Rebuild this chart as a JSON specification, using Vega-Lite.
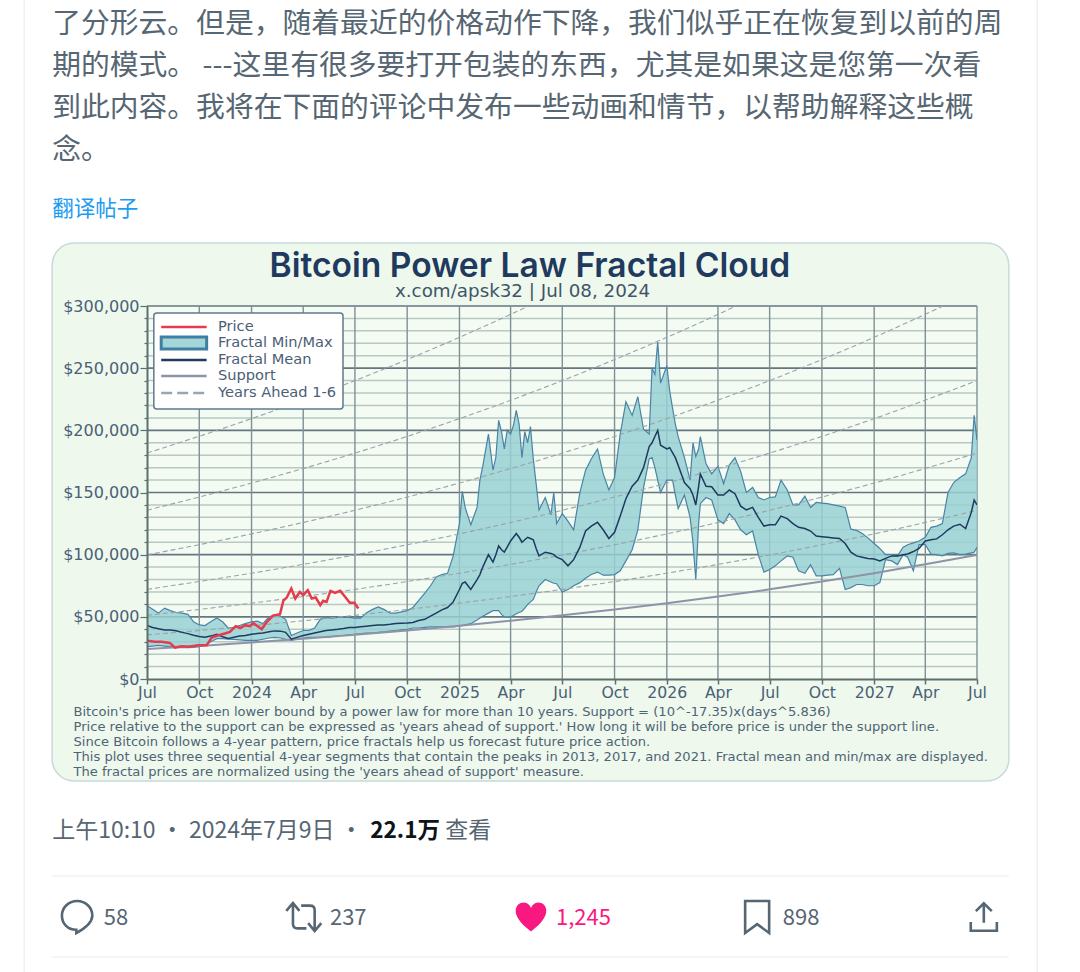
{"$schema":"https://vega.github.io/schema/vega-lite/v6.json","width":830,"height":373,"autosize":{"type":"none"},"padding":{"left":147,"top":306,"right":103,"bottom":293},"background":"#ffffff","config":{"view":{"stroke":null}},
"datasets":{
"band":[
{"d":"2023-07-01","lo":26000,"hi":59000,"mean":43000},{"d":"2023-07-11","lo":26500,"hi":56000,"mean":41500},{"d":"2023-07-21","lo":27000,"hi":53000,"mean":40500},{"d":"2023-08-01","lo":26500,"hi":57000,"mean":39500},{"d":"2023-08-11","lo":26000,"hi":55000,"mean":39500},{"d":"2023-08-21","lo":25500,"hi":53500,"mean":38800},{"d":"2023-09-01","lo":25300,"hi":53000,"mean":37500},{"d":"2023-09-11","lo":25300,"hi":52000,"mean":36500},{"d":"2023-09-21","lo":25500,"hi":46000,"mean":35200},{"d":"2023-10-01","lo":26000,"hi":43500,"mean":34200},{"d":"2023-10-11","lo":27000,"hi":43000,"mean":33500},{"d":"2023-10-21","lo":30000,"hi":46000,"mean":34500},{"d":"2023-11-01","lo":32500,"hi":49000,"mean":36000},{"d":"2023-11-11","lo":32500,"hi":46000,"mean":34000},{"d":"2023-11-21","lo":32000,"hi":41000,"mean":32600},{"d":"2023-12-01","lo":31800,"hi":41500,"mean":33500},{"d":"2023-12-11","lo":31500,"hi":43000,"mean":34500},{"d":"2023-12-21","lo":31000,"hi":44500,"mean":35000},
{"d":"2024-01-01","lo":31000,"hi":46000,"mean":36000},{"d":"2024-01-11","lo":31000,"hi":46500,"mean":36500},{"d":"2024-01-21","lo":32000,"hi":44600,"mean":37000},{"d":"2024-02-01","lo":33000,"hi":50000,"mean":38000},{"d":"2024-02-11","lo":33400,"hi":51500,"mean":38700},{"d":"2024-02-21","lo":33000,"hi":50500,"mean":38500},{"d":"2024-03-01","lo":32000,"hi":48000,"mean":37500},{"d":"2024-03-11","lo":31000,"hi":35000,"mean":32000},{"d":"2024-03-21","lo":32000,"hi":37000,"mean":33500},{"d":"2024-04-01","lo":33000,"hi":39000,"mean":35000},{"d":"2024-04-11","lo":33400,"hi":39000,"mean":36000},{"d":"2024-04-21","lo":33400,"hi":41000,"mean":37000},{"d":"2024-05-01","lo":33400,"hi":48000,"mean":38000},{"d":"2024-05-11","lo":33400,"hi":49500,"mean":39000},{"d":"2024-05-21","lo":34000,"hi":49000,"mean":39500},{"d":"2024-06-01","lo":35000,"hi":49500,"mean":40000},{"d":"2024-06-11","lo":35000,"hi":49500,"mean":40600},{"d":"2024-06-21","lo":35500,"hi":49500,"mean":41500},
{"d":"2024-07-01","lo":36000,"hi":49000,"mean":41500},{"d":"2024-07-11","lo":36500,"hi":49000,"mean":42000},{"d":"2024-07-21","lo":37000,"hi":53000,"mean":42500},{"d":"2024-08-01","lo":37000,"hi":56000,"mean":43000},{"d":"2024-08-11","lo":37500,"hi":58000,"mean":43500},{"d":"2024-08-21","lo":38000,"hi":56000,"mean":43500},{"d":"2024-09-01","lo":38500,"hi":53000,"mean":44000},{"d":"2024-09-11","lo":39000,"hi":53000,"mean":44600},{"d":"2024-09-21","lo":39500,"hi":54000,"mean":44800},{"d":"2024-10-01","lo":40000,"hi":55000,"mean":45000},{"d":"2024-10-11","lo":41000,"hi":57500,"mean":45500},{"d":"2024-10-21","lo":41000,"hi":63000,"mean":47000},{"d":"2024-11-01","lo":41500,"hi":69000,"mean":48000},{"d":"2024-11-11","lo":42000,"hi":75000,"mean":50500},{"d":"2024-11-21","lo":42000,"hi":82000,"mean":53000},{"d":"2024-12-01","lo":42000,"hi":84000,"mean":55600},{"d":"2024-12-11","lo":42000,"hi":85000,"mean":57500},{"d":"2024-12-21","lo":42000,"hi":99000,"mean":62000},
{"d":"2025-01-01","lo":42500,"hi":125000,"mean":72000},{"d":"2025-01-06","lo":43000,"hi":151000,"mean":77000},{"d":"2025-01-11","lo":43500,"hi":138000,"mean":78000},{"d":"2025-01-21","lo":44500,"hi":124000,"mean":72000},{"d":"2025-02-01","lo":47500,"hi":138000,"mean":80000},{"d":"2025-02-06","lo":49000,"hi":160000,"mean":84000},{"d":"2025-02-11","lo":50500,"hi":171000,"mean":90000},{"d":"2025-02-21","lo":53000,"hi":197000,"mean":100000},{"d":"2025-03-01","lo":55000,"hi":168000,"mean":94000},{"d":"2025-03-06","lo":55000,"hi":178000,"mean":100000},{"d":"2025-03-11","lo":55000,"hi":208000,"mean":107000},{"d":"2025-03-16","lo":52000,"hi":199000,"mean":104000},{"d":"2025-03-21","lo":50000,"hi":185000,"mean":102000},{"d":"2025-03-26","lo":50000,"hi":200000,"mean":106000},{"d":"2025-04-01","lo":50000,"hi":197000,"mean":111000},{"d":"2025-04-06","lo":51000,"hi":204000,"mean":114000},{"d":"2025-04-11","lo":52500,"hi":216000,"mean":117000},{"d":"2025-04-16","lo":53500,"hi":205000,"mean":114000},{"d":"2025-04-21","lo":54500,"hi":178000,"mean":110000},{"d":"2025-04-26","lo":57000,"hi":199000,"mean":112000},{"d":"2025-05-01","lo":60000,"hi":190000,"mean":114000},{"d":"2025-05-06","lo":62000,"hi":203000,"mean":113000},{"d":"2025-05-11","lo":64000,"hi":177000,"mean":112000},{"d":"2025-05-16","lo":70000,"hi":157000,"mean":105000},{"d":"2025-05-21","lo":75000,"hi":136000,"mean":99000},{"d":"2025-06-01","lo":80000,"hi":146000,"mean":102000},{"d":"2025-06-11","lo":78000,"hi":132000,"mean":101000},{"d":"2025-06-16","lo":77000,"hi":150000,"mean":100000},{"d":"2025-06-21","lo":76600,"hi":125000,"mean":98000},
{"d":"2025-07-01","lo":70000,"hi":133000,"mean":96000},{"d":"2025-07-11","lo":72000,"hi":127000,"mean":91000},{"d":"2025-07-21","lo":75000,"hi":120000,"mean":96000},{"d":"2025-08-01","lo":77500,"hi":150000,"mean":106000},{"d":"2025-08-11","lo":81000,"hi":168000,"mean":119000},{"d":"2025-08-21","lo":84000,"hi":177000,"mean":123000},{"d":"2025-09-01","lo":86000,"hi":185000,"mean":126000},{"d":"2025-09-11","lo":83500,"hi":165000,"mean":120000},{"d":"2025-09-21","lo":83500,"hi":152000,"mean":113000},{"d":"2025-10-01","lo":84000,"hi":162000,"mean":118000},{"d":"2025-10-11","lo":87000,"hi":197000,"mean":131000},{"d":"2025-10-21","lo":95000,"hi":223000,"mean":145000},{"d":"2025-11-01","lo":104000,"hi":212000,"mean":155000},{"d":"2025-11-11","lo":120000,"hi":227000,"mean":160000},{"d":"2025-11-21","lo":154000,"hi":201000,"mean":170000},{"d":"2025-12-01","lo":177000,"hi":197000,"mean":187000},{"d":"2025-12-06","lo":178000,"hi":250000,"mean":190000},{"d":"2025-12-11","lo":170000,"hi":245000,"mean":195000},{"d":"2025-12-16","lo":160000,"hi":271000,"mean":200000},{"d":"2025-12-21","lo":150000,"hi":238000,"mean":188000},
{"d":"2026-01-01","lo":160000,"hi":252000,"mean":185000},{"d":"2026-01-06","lo":160000,"hi":232000,"mean":186000},{"d":"2026-01-11","lo":160000,"hi":218000,"mean":182000},{"d":"2026-01-16","lo":148000,"hi":205000,"mean":178000},{"d":"2026-01-21","lo":137000,"hi":195000,"mean":172000},{"d":"2026-02-01","lo":148000,"hi":178000,"mean":158000},{"d":"2026-02-11","lo":130000,"hi":160000,"mean":153000},{"d":"2026-02-16","lo":110000,"hi":190000,"mean":148000},{"d":"2026-02-21","lo":80000,"hi":179000,"mean":140000},{"d":"2026-02-26","lo":125000,"hi":185000,"mean":155000},{"d":"2026-03-01","lo":141000,"hi":195000,"mean":165000},{"d":"2026-03-11","lo":146000,"hi":173000,"mean":155000},{"d":"2026-03-21","lo":144000,"hi":165000,"mean":154600},{"d":"2026-04-01","lo":128000,"hi":171000,"mean":148000},{"d":"2026-04-11","lo":125000,"hi":157000,"mean":148000},{"d":"2026-04-21","lo":133000,"hi":172000,"mean":152000},{"d":"2026-05-01","lo":128000,"hi":178000,"mean":149000},{"d":"2026-05-11","lo":120000,"hi":167000,"mean":139000},{"d":"2026-05-21","lo":116000,"hi":150000,"mean":136000},{"d":"2026-06-01","lo":119000,"hi":154000,"mean":138000},{"d":"2026-06-11","lo":100000,"hi":146000,"mean":130000},{"d":"2026-06-21","lo":86000,"hi":144000,"mean":123000},
{"d":"2026-07-01","lo":88000,"hi":146000,"mean":124000},{"d":"2026-07-11","lo":91000,"hi":146500,"mean":124000},{"d":"2026-07-21","lo":95000,"hi":160000,"mean":131000},{"d":"2026-08-01","lo":99000,"hi":152000,"mean":129000},{"d":"2026-08-11","lo":98000,"hi":140000,"mean":125000},{"d":"2026-08-21","lo":87000,"hi":140000,"mean":122000},{"d":"2026-09-01","lo":85000,"hi":147000,"mean":121000},{"d":"2026-09-11","lo":92000,"hi":138000,"mean":119000},{"d":"2026-09-21","lo":83000,"hi":142000,"mean":115000},{"d":"2026-10-01","lo":83000,"hi":141500,"mean":114500},{"d":"2026-10-11","lo":83500,"hi":141000,"mean":114000},{"d":"2026-10-21","lo":84000,"hi":140000,"mean":113500},{"d":"2026-11-01","lo":89000,"hi":139000,"mean":113000},{"d":"2026-11-11","lo":72000,"hi":138000,"mean":109000},{"d":"2026-11-21","lo":73500,"hi":120500,"mean":102000},{"d":"2026-12-01","lo":76000,"hi":119500,"mean":99000},{"d":"2026-12-11","lo":76000,"hi":117000,"mean":98000},{"d":"2026-12-21","lo":75000,"hi":113500,"mean":97000},
{"d":"2027-01-01","lo":75000,"hi":109000,"mean":96500},{"d":"2027-01-11","lo":77500,"hi":105000,"mean":95000},{"d":"2027-01-21","lo":96000,"hi":100000,"mean":97000},{"d":"2027-02-01","lo":95000,"hi":100000,"mean":99000},{"d":"2027-02-11","lo":92000,"hi":99000,"mean":99000},{"d":"2027-02-21","lo":100000,"hi":106000,"mean":100000},{"d":"2027-03-01","lo":98000,"hi":108000,"mean":100500},{"d":"2027-03-11","lo":87000,"hi":109500,"mean":102500},{"d":"2027-03-21","lo":108000,"hi":111000,"mean":105000},{"d":"2027-04-01","lo":108000,"hi":114000,"mean":111000},{"d":"2027-04-11","lo":100500,"hi":122000,"mean":112000},{"d":"2027-04-21","lo":100000,"hi":123000,"mean":112700},{"d":"2027-05-01","lo":99000,"hi":125000,"mean":116000},{"d":"2027-05-11","lo":101000,"hi":150000,"mean":120000},{"d":"2027-05-21","lo":101500,"hi":158000,"mean":123000},{"d":"2027-06-01","lo":100000,"hi":162000,"mean":124500},{"d":"2027-06-11","lo":100500,"hi":165000,"mean":121000},{"d":"2027-06-21","lo":101500,"hi":178000,"mean":134000},{"d":"2027-06-26","lo":102000,"hi":212000,"mean":144000},{"d":"2027-07-01","lo":106000,"hi":192000,"mean":140000}
],
"price":[{"d":"2023-07-01","v":30700},{"d":"2023-07-15","v":29900},{"d":"2023-07-27","v":29900},{"d":"2023-08-10","v":29000},{"d":"2023-08-19","v":25300},{"d":"2023-08-31","v":26400},{"d":"2023-09-12","v":25900},{"d":"2023-09-29","v":27200},{"d":"2023-10-14","v":27200},{"d":"2023-10-23","v":33400},{"d":"2023-11-04","v":35200},{"d":"2023-11-15","v":36600},{"d":"2023-11-24","v":37900},{"d":"2023-12-04","v":42500},{"d":"2023-12-12","v":41000},{"d":"2023-12-21","v":43300},{"d":"2023-12-29","v":42500},{"d":"2024-01-04","v":45000},{"d":"2024-01-10","v":43000},{"d":"2024-01-19","v":40000},{"d":"2024-01-28","v":46000},{"d":"2024-02-08","v":51000},{"d":"2024-02-20","v":52000},{"d":"2024-02-26","v":63000},{"d":"2024-03-03","v":65500},{"d":"2024-03-11","v":72800},{"d":"2024-03-18","v":64700},{"d":"2024-03-26","v":70000},{"d":"2024-04-01","v":67400},{"d":"2024-04-09","v":71400},{"d":"2024-04-16","v":64700},{"d":"2024-04-23","v":65500},{"d":"2024-05-01","v":59400},{"d":"2024-05-06","v":62900},{"d":"2024-05-12","v":62000},{"d":"2024-05-19","v":70900},{"d":"2024-05-27","v":69300},{"d":"2024-06-05","v":70900},{"d":"2024-06-14","v":66000},{"d":"2024-06-22","v":61300},{"d":"2024-06-30","v":61300},{"d":"2024-07-07","v":56700}],
"curves":[
{"d":"2023-07-01","n":"s","v":24050},{"d":"2023-10-01","n":"s","v":26500},{"d":"2024-01-01","n":"s","v":29350},{"d":"2024-04-01","n":"s","v":32300},{"d":"2024-07-01","n":"s","v":35500},{"d":"2024-10-01","n":"s","v":39000},{"d":"2025-01-01","n":"s","v":42800},{"d":"2025-04-01","n":"s","v":46800},{"d":"2025-07-01","n":"s","v":51200},{"d":"2025-10-01","n":"s","v":55900},{"d":"2026-01-01","n":"s","v":61000},{"d":"2026-04-01","n":"s","v":66300},{"d":"2026-07-01","n":"s","v":72100},{"d":"2026-10-01","n":"s","v":78400},{"d":"2027-01-01","n":"s","v":85100},{"d":"2027-04-01","n":"s","v":92300},{"d":"2027-07-01","n":"s","v":99800}],
"ahead":[
{"d":"2023-07-01","n":1,"v":35500},{"d":"2024-01-01","n":1,"v":42800},{"d":"2024-07-01","n":1,"v":51200},{"d":"2025-01-01","n":1,"v":61000},{"d":"2025-07-01","n":1,"v":72100},{"d":"2026-01-01","n":1,"v":85100},{"d":"2026-07-01","n":1,"v":99800},{"d":"2027-01-01","n":1,"v":116700},{"d":"2027-07-01","n":1,"v":135700},
{"d":"2023-07-01","n":2,"v":51200},{"d":"2024-01-01","n":2,"v":61000},{"d":"2024-07-01","n":2,"v":72100},{"d":"2025-01-01","n":2,"v":85100},{"d":"2025-07-01","n":2,"v":99800},{"d":"2026-01-01","n":2,"v":116700},{"d":"2026-07-01","n":2,"v":135700},{"d":"2027-01-01","n":2,"v":157600},{"d":"2027-07-01","n":2,"v":181700},
{"d":"2023-07-01","n":3,"v":72100},{"d":"2024-01-01","n":3,"v":85100},{"d":"2024-07-01","n":3,"v":99800},{"d":"2025-01-01","n":3,"v":116700},{"d":"2025-07-01","n":3,"v":135700},{"d":"2026-01-01","n":3,"v":157600},{"d":"2026-07-01","n":3,"v":181700},{"d":"2027-01-01","n":3,"v":209400},{"d":"2027-07-01","n":3,"v":240000},
{"d":"2023-07-01","n":4,"v":99800},{"d":"2024-01-01","n":4,"v":116700},{"d":"2024-07-01","n":4,"v":135700},{"d":"2025-01-01","n":4,"v":157600},{"d":"2025-07-01","n":4,"v":181700},{"d":"2026-01-01","n":4,"v":209400},{"d":"2026-07-01","n":4,"v":240000},{"d":"2027-01-01","n":4,"v":274800},{"d":"2027-07-01","n":4,"v":312900},
{"d":"2023-07-01","n":5,"v":135700},{"d":"2024-01-01","n":5,"v":157600},{"d":"2024-07-01","n":5,"v":181700},{"d":"2025-01-01","n":5,"v":209400},{"d":"2025-07-01","n":5,"v":240000},{"d":"2026-01-01","n":5,"v":274800},{"d":"2026-07-01","n":5,"v":312900},{"d":"2027-01-01","n":5,"v":356000},{"d":"2027-07-01","n":5,"v":403500},
{"d":"2023-07-01","n":6,"v":181700},{"d":"2024-01-01","n":6,"v":209400},{"d":"2024-07-01","n":6,"v":240000},{"d":"2025-01-01","n":6,"v":274800},{"d":"2025-07-01","n":6,"v":312900},{"d":"2026-01-01","n":6,"v":356000},{"d":"2026-07-01","n":6,"v":403500},{"d":"2027-01-01","n":6,"v":457000},{"d":"2027-07-01","n":6,"v":514600}],
"tweet":[{"d":"2023-01-15","v":526820,"t":"了分形云。但是，随着最近的价格动作下降，我们似乎正在恢复到以前的周"},{"d":"2023-01-15","v":493040,"t":"期的模式。 ---这里有很多要打开包装的东西，尤其是如果这是您第一次看"},{"d":"2023-01-15","v":459260,"t":"到此内容。我将在下面的评论中发布一些动画和情节，以帮助解释这些概"},{"d":"2023-01-15","v":425480,"t":"念。"}]
},
"encoding":{
"x":{"field":"d","type":"temporal","scale":{"type":"utc","domain":[{"year":2023,"month":7,"date":1,"utc":true},{"year":2027,"month":7,"date":1,"utc":true}],"nice":false},
"axis":{"zindex":1,"title":["Bitcoin's price has been lower bound by a power law for more than 10 years. Support = (10^-17.35)x(days^5.836)","Price relative to the support can be expressed as 'years ahead of support.' How long it will be before price is under the support line.","Since Bitcoin follows a 4-year pattern, price fractals help us forecast future price action.","This plot uses three sequential 4-year segments that contain the peaks in 2013, 2017, and 2021. Fractal mean and min/max are displayed.","The fractal prices are normalized using the 'years ahead of support' measure."],
"titleFont":"DejaVu Sans","titleFontSize":13.1,"titleFontWeight":400,"titleColor":"#4f6475","titleAnchor":"start","titleAlign":"left","titleBaseline":"top","titleX":-74,"titleY":26.5,"titleLineHeight":15,
"values":[{"year":2023,"month":7,"date":1,"utc":true},{"year":2023,"month":10,"date":1,"utc":true},{"year":2024,"month":1,"date":1,"utc":true},{"year":2024,"month":4,"date":1,"utc":true},{"year":2024,"month":7,"date":1,"utc":true},{"year":2024,"month":10,"date":1,"utc":true},{"year":2025,"month":1,"date":1,"utc":true},{"year":2025,"month":4,"date":1,"utc":true},{"year":2025,"month":7,"date":1,"utc":true},{"year":2025,"month":10,"date":1,"utc":true},{"year":2026,"month":1,"date":1,"utc":true},{"year":2026,"month":4,"date":1,"utc":true},{"year":2026,"month":7,"date":1,"utc":true},{"year":2026,"month":10,"date":1,"utc":true},{"year":2027,"month":1,"date":1,"utc":true},{"year":2027,"month":4,"date":1,"utc":true},{"year":2027,"month":7,"date":1,"utc":true}],
"labelExpr":"utcmonth(datum.value)==0 ? utcFormat(datum.value,'%Y') : utcFormat(datum.value,'%b')","labelFont":"DejaVu Sans","labelFontSize":15.7,"labelColor":"#4a6076","labelOverlap":false,"labelFlush":false,"labelBound":false,"labelPadding":1.5,
"grid":false,"tickColor":"#5f6f6f","tickSize":5,"tickWidth":1.5,"domainColor":"#5f6f6f","domainWidth":2}},
"y":{"field":"v","type":"quantitative","scale":{"domain":[0,300000],"nice":false,"zero":false},
"axis":{"zindex":1,"title":null,"values":[0,10000,20000,30000,40000,50000,60000,70000,80000,90000,100000,110000,120000,130000,140000,150000,160000,170000,180000,190000,200000,210000,220000,230000,240000,250000,260000,270000,280000,290000,300000],
"labelExpr":"datum.value % 50000 == 0 ? format(datum.value,'$,.0f') : ''","labelFont":"DejaVu Sans","labelFontSize":16,"labelColor":"#4a6076","labelOverlap":false,"labelFlush":false,"labelBound":false,"labelPadding":1,
"grid":false,"tickColor":"#5f6f6f","tickSize":{"condition":{"test":"datum.value % 50000 == 0","value":7},"value":3},"tickWidth":1.2,"domainColor":"#5f6f6f","domainWidth":2}}
},
"layer":[
{"data":{"values":[{"d":"2023-01-15","d2":"2027-08-26","v":350670,"v2":-82040}]},"mark":{"type":"rect","fill":"#eef8ed","stroke":"#c8d9da","strokeWidth":1.5,"cornerRadius":22,"clip":false},"encoding":{"x2":{"field":"d2"},"y2":{"field":"v2"}}},
{"data":{"values":[{"d":"2023-07-01","d2":"2027-07-01","v":300000,"v2":0}]},"mark":{"type":"rect","fill":"#f3fbf2"},"encoding":{"x2":{"field":"d2"},"y2":{"field":"v2"}}},
{"data":{"values":[{"d":"2023-07-01","d2":"2027-07-01","v":10000},{"d":"2023-07-01","d2":"2027-07-01","v":20000},{"d":"2023-07-01","d2":"2027-07-01","v":30000},{"d":"2023-07-01","d2":"2027-07-01","v":40000},{"d":"2023-07-01","d2":"2027-07-01","v":60000},{"d":"2023-07-01","d2":"2027-07-01","v":70000},{"d":"2023-07-01","d2":"2027-07-01","v":80000},{"d":"2023-07-01","d2":"2027-07-01","v":90000},{"d":"2023-07-01","d2":"2027-07-01","v":110000},{"d":"2023-07-01","d2":"2027-07-01","v":120000},{"d":"2023-07-01","d2":"2027-07-01","v":130000},{"d":"2023-07-01","d2":"2027-07-01","v":140000},{"d":"2023-07-01","d2":"2027-07-01","v":160000},{"d":"2023-07-01","d2":"2027-07-01","v":170000},{"d":"2023-07-01","d2":"2027-07-01","v":180000},{"d":"2023-07-01","d2":"2027-07-01","v":190000},{"d":"2023-07-01","d2":"2027-07-01","v":210000},{"d":"2023-07-01","d2":"2027-07-01","v":220000},{"d":"2023-07-01","d2":"2027-07-01","v":230000},{"d":"2023-07-01","d2":"2027-07-01","v":240000},{"d":"2023-07-01","d2":"2027-07-01","v":260000},{"d":"2023-07-01","d2":"2027-07-01","v":270000},{"d":"2023-07-01","d2":"2027-07-01","v":280000},{"d":"2023-07-01","d2":"2027-07-01","v":290000}]},"mark":{"type":"rule","stroke":"#b9c8c3","strokeWidth":1.5},"encoding":{"x2":{"field":"d2"}}},
{"data":{"values":[{"d":"2023-07-01","d2":"2027-07-01","v":50000},{"d":"2023-07-01","d2":"2027-07-01","v":100000},{"d":"2023-07-01","d2":"2027-07-01","v":150000},{"d":"2023-07-01","d2":"2027-07-01","v":200000},{"d":"2023-07-01","d2":"2027-07-01","v":250000},{"d":"2023-07-01","d2":"2027-07-01","v":300000}]},"mark":{"type":"rule","stroke":"#64767f","strokeWidth":1.6},"encoding":{"x2":{"field":"d2"}}},
{"data":{"values":[{"d":"2023-10-01","v":0,"v2":300000},{"d":"2024-01-01","v":0,"v2":300000},{"d":"2024-04-01","v":0,"v2":300000},{"d":"2024-07-01","v":0,"v2":300000},{"d":"2024-10-01","v":0,"v2":300000},{"d":"2025-01-01","v":0,"v2":300000},{"d":"2025-04-01","v":0,"v2":300000},{"d":"2025-07-01","v":0,"v2":300000},{"d":"2025-10-01","v":0,"v2":300000},{"d":"2026-01-01","v":0,"v2":300000},{"d":"2026-04-01","v":0,"v2":300000},{"d":"2026-07-01","v":0,"v2":300000},{"d":"2026-10-01","v":0,"v2":300000},{"d":"2027-01-01","v":0,"v2":300000},{"d":"2027-04-01","v":0,"v2":300000},{"d":"2027-07-01","v":0,"v2":300000}]},"mark":{"type":"rule","stroke":"#7f9095","strokeWidth":1.4},"encoding":{"y2":{"field":"v2"}}},
{"data":{"values":[{"d":"2022-11-27","v":546120,"v2":-235660},{"d":"2027-10-15","v":546120,"v2":-235660}]},"mark":{"type":"rule","stroke":"#eff1f2","strokeWidth":1.5},"encoding":{"y2":{"field":"v2"}}},
{"data":{"values":[{"d":"2023-01-15","d2":"2027-08-26","v":-158450},{"d":"2023-01-15","d2":"2027-08-26","v":-223600}]},"mark":{"type":"rule","stroke":"#eff3f4","strokeWidth":1.5},"encoding":{"x2":{"field":"d2"}}},
{"data":{"name":"band"},"mark":{"type":"area","clip":true,"opacity":0.84,"fill":"#97d1d4"},"encoding":{"y":{"field":"hi","type":"quantitative"},"y2":{"field":"lo"}}},
{"data":{"name":"band"},"mark":{"type":"line","stroke":"#4a83a5","strokeWidth":1.2,"clip":true},"encoding":{"y":{"field":"hi","type":"quantitative"}}},
{"data":{"name":"band"},"mark":{"type":"line","stroke":"#4a83a5","strokeWidth":1.2,"clip":true},"encoding":{"y":{"field":"lo","type":"quantitative"}}},
{"data":{"name":"ahead"},"mark":{"type":"line","stroke":"#9aa3a8","strokeWidth":1.1,"strokeDash":[5,3],"interpolate":"monotone","clip":true},"encoding":{"detail":{"field":"n"}}},
{"data":{"name":"curves"},"mark":{"type":"line","stroke":"#8e93a8","strokeWidth":2,"interpolate":"monotone","clip":true}},
{"data":{"name":"band"},"mark":{"type":"line","stroke":"#1f3a5f","strokeWidth":1.5,"clip":true},"encoding":{"y":{"field":"mean","type":"quantitative"}}},
{"data":{"name":"price"},"mark":{"type":"line","stroke":"#e63b4d","strokeWidth":2.5,"clip":true}},
{"data":{"values":[{"d":"2023-07-13","d2":"2024-06-10","v":294370,"v2":217160}]},"mark":{"type":"rect","fill":"#ffffff","stroke":"#5d7a90","strokeWidth":1.5,"cornerRadius":3},"encoding":{"x2":{"field":"d2"},"y2":{"field":"v2"}}},
{"data":{"values":[{"d":"2023-07-26","d2":"2023-10-14","v":283110}]},"mark":{"type":"rule","stroke":"#e63b4d","strokeWidth":2.5},"encoding":{"x2":{"field":"d2"}}},
{"data":{"values":[{"d":"2023-07-26","d2":"2023-10-14","v":275070,"v2":265420}]},"mark":{"type":"rect","fill":"#a4d6d8","stroke":"#3f7fa3","strokeWidth":3},"encoding":{"x2":{"field":"d2"},"y2":{"field":"v2"}}},
{"data":{"values":[{"d":"2023-07-26","d2":"2023-10-14","v":256570}]},"mark":{"type":"rule","stroke":"#1f3a5f","strokeWidth":2.5},"encoding":{"x2":{"field":"d2"}}},
{"data":{"values":[{"d":"2023-07-26","d2":"2023-10-14","v":243700}]},"mark":{"type":"rule","stroke":"#8e93a8","strokeWidth":2.5},"encoding":{"x2":{"field":"d2"}}},
{"data":{"values":[{"d":"2023-07-26","d2":"2023-10-14","v":230030}]},"mark":{"type":"rule","stroke":"#9aa3b5","strokeWidth":2.5,"strokeDash":[11,5]},"encoding":{"x2":{"field":"d2"}}},
{"data":{"values":[{"d":"2023-11-03","v":283110,"t":"Price"},{"d":"2023-11-03","v":270240,"t":"Fractal Min/Max"},{"d":"2023-11-03","v":256570,"t":"Fractal Mean"},{"d":"2023-11-03","v":243700,"t":"Support"},{"d":"2023-11-03","v":230030,"t":"Years Ahead 1-6"}]},"mark":{"type":"text","font":"DejaVu Sans","fontSize":14.6,"align":"left","baseline":"middle","fill":"#4a6076"},"encoding":{"text":{"field":"t"}}},
{"data":{"values":[{"d":"2025-05-05","v":331400,"t":"Bitcoin Power Law Fractal Cloud"}]},"mark":{"type":"text","font":"Inter","fontSize":33.6,"fontWeight":600,"align":"center","baseline":"middle","fill":"#1f3a5f"},"encoding":{"text":{"field":"t"}}},
{"data":{"values":[{"d":"2025-04-22","v":311300,"t":"x.com/apsk32 | Jul 08, 2024"}]},"mark":{"type":"text","font":"DejaVu Sans","fontSize":18.3,"align":"center","baseline":"middle","fill":"#3f5568"},"encoding":{"text":{"field":"t"}}},
{"data":{"name":"tweet"},"mark":{"type":"text","font":"Noto Sans CJK SC","fontSize":28.8,"align":"left","baseline":"middle","fill":"#566672"},"encoding":{"text":{"field":"t"}}},
{"data":{"values":[{"d":"2023-01-15","v":377225,"t":"翻译帖子"}]},"mark":{"type":"text","font":"Noto Sans CJK SC","fontSize":21.5,"align":"left","baseline":"middle","fill":"#1d9bf0"},"encoding":{"text":{"field":"t"}}},
{"data":{"values":[{"d":"2023-01-15","v":-122250,"t":"上午10:10 · 2024年7月9日 ·"},{"d":"2024-12-07","v":-122250,"t":"查看"}]},"mark":{"type":"text","font":"Noto Sans CJK SC","fontSize":23,"align":"left","baseline":"middle","fill":"#566672"},"encoding":{"text":{"field":"t"}}},
{"data":{"values":[{"d":"2024-07-28","v":-122250,"t":"22.1万"}]},"mark":{"type":"text","font":"Noto Sans CJK SC","fontSize":22.5,"fontWeight":700,"align":"left","baseline":"middle","fill":"#0f1419"},"encoding":{"text":{"field":"t"}}},
{"data":{"values":[{"d":"2023-04-16","v":-192220,"t":"58"},{"d":"2024-05-18","v":-192220,"t":"237"},{"d":"2026-07-24","v":-192220,"t":"898"}]},"mark":{"type":"text","font":"Noto Sans CJK SC","fontSize":22,"align":"left","baseline":"middle","fill":"#566672"},"encoding":{"text":{"field":"t"}}},
{"data":{"values":[{"d":"2025-06-20","v":-192220,"t":"1,245"}]},"mark":{"type":"text","font":"Noto Sans CJK SC","fontSize":22,"align":"left","baseline":"middle","fill":"#f91880"},"encoding":{"text":{"field":"t"}}},
{"data":{"values":[{"d":"2023-02-28","v":-191420}]},"mark":{"type":"point","shape":"M-0.95,-0.1A0.95,0.9 0 1 1 0.95,-0.1C0.95,0.3 0.5,0.7 -0.05,1L-0.05,0.8C-0.6,0.8 -0.95,0.4 -0.95,-0.1Z","size":1024,"filled":false,"opacity":1,"stroke":"#566672","strokeWidth":2.6}},
{"data":{"values":[{"d":"2024-04-02","v":-191420}]},"mark":{"type":"point","shape":"M-1,-0.35L-0.62,-0.8L-0.25,-0.35M-0.62,-0.7L-0.62,0.4Q-0.62,0.65 -0.35,0.65L0.15,0.65M1,0.35L0.62,0.8L0.25,0.35M0.62,0.7L0.62,-0.4Q0.62,-0.65 0.35,-0.65L-0.15,-0.65","size":1225,"filled":false,"opacity":1,"stroke":"#566672","strokeWidth":2.6}},
{"data":{"values":[{"d":"2025-05-07","v":-191420}]},"mark":{"type":"point","shape":"M0,0.9C-1.4,-0.1 -1,-0.9 -0.45,-0.9C-0.2,-0.9 -0.05,-0.7 0,-0.55C0.05,-0.7 0.2,-0.9 0.45,-0.9C1,-0.9 1.4,-0.1 0,0.9Z","size":1024,"filled":true,"opacity":1,"fill":"#f91880"}},
{"data":{"values":[{"d":"2026-06-09","v":-191420}]},"mark":{"type":"point","shape":"M-0.75,-1L0.75,-1L0.75,1L0,0.45L-0.75,1Z","size":1024,"filled":false,"opacity":1,"stroke":"#566672","strokeWidth":2.6}},
{"data":{"values":[{"d":"2027-07-13","v":-191420}]},"mark":{"type":"point","shape":"M0,0.4L0,-0.95M-0.55,-0.4L0,-0.95L0.55,-0.4M-0.9,0.35L-0.9,0.95L0.9,0.95L0.9,0.35","size":841,"filled":false,"opacity":1,"stroke":"#566672","strokeWidth":2.6}}
]}
